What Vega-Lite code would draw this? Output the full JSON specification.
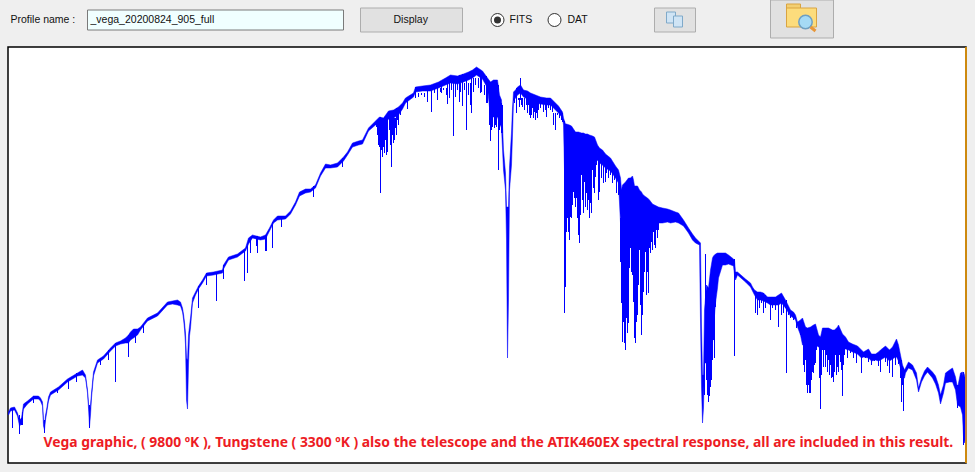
{"$schema":"https://vega.github.io/schema/vega-lite/v6.json","width":958,"height":416,"autosize":"none","padding":{"left":8,"top":47,"right":9,"bottom":9},"background":"#efefef","view":{"fill":"#ffffff","stroke":"#000000","strokeWidth":1.5},
"datasets":{
"spectrum":[{"w":8,"t":51,"b":48},{"w":10,"t":55,"b":52},{"w":14,"t":56,"b":53},{"w":17,"t":50,"b":47},{"w":19,"t":43,"b":37},{"w":21,"t":45,"b":39},{"w":23,"t":59,"b":54},{"w":27,"t":62,"b":59},{"w":33,"t":67,"b":64},{"w":38,"t":67,"b":64},{"w":40,"t":65,"b":62},{"w":42,"t":61,"b":57},{"w":43,"t":43,"b":37},{"w":44,"t":39,"b":33},{"w":45,"t":48,"b":43},{"w":46,"t":53,"b":49},{"w":48,"t":66,"b":62},{"w":50,"t":71,"b":68},{"w":58,"t":76,"b":73},{"w":67,"t":84,"b":81},{"w":77,"t":90,"b":87},{"w":82,"t":93,"b":88},{"w":85,"t":88,"b":85},{"w":87,"t":73,"b":70},{"w":88,"t":60,"b":55},{"w":89,"t":51,"b":36},{"w":90,"t":58,"b":48},{"w":91,"t":70,"b":65},{"w":93,"t":91,"b":87},{"w":97,"t":103,"b":100},{"w":103,"t":107,"b":104},{"w":110,"t":115,"b":112},{"w":115,"t":120,"b":117},{"w":120,"t":122,"b":119},{"w":125,"t":125,"b":120},{"w":128,"t":128,"b":120},{"w":130,"t":131,"b":123},{"w":133,"t":134,"b":125},{"w":137,"t":134,"b":128},{"w":140,"t":136,"b":133},{"w":147,"t":145,"b":142},{"w":157,"t":150,"b":147},{"w":167,"t":161,"b":158},{"w":172,"t":162,"b":159},{"w":177,"t":163,"b":158},{"w":180,"t":161,"b":157},{"w":182,"t":155,"b":151},{"w":183,"t":149,"b":144},{"w":184,"t":141,"b":134},{"w":185,"t":130,"b":118},{"w":186,"t":105,"b":63},{"w":187,"t":103,"b":54},{"w":188,"t":128,"b":98},{"w":189,"t":137,"b":127},{"w":190,"t":145,"b":135},{"w":192,"t":165,"b":160},{"w":195,"t":171,"b":168},{"w":198,"t":177,"b":174},{"w":202,"t":183,"b":180},{"w":206,"t":190,"b":187},{"w":213,"t":191,"b":188},{"w":222,"t":193,"b":190},{"w":223,"t":198,"b":194},{"w":228,"t":206,"b":203},{"w":237,"t":209,"b":206},{"w":245,"t":215,"b":212},{"w":248,"t":225,"b":219},{"w":252,"t":228,"b":225},{"w":260,"t":226,"b":223},{"w":265,"t":228,"b":224},{"w":269,"t":235,"b":232},{"w":273,"t":243,"b":240},{"w":277,"t":247,"b":243},{"w":285,"t":247,"b":244},{"w":290,"t":252,"b":249},{"w":295,"t":261,"b":258},{"w":299,"t":271,"b":267},{"w":305,"t":274,"b":270},{"w":310,"t":274,"b":271},{"w":315,"t":278,"b":275},{"w":320,"t":290,"b":287},{"w":325,"t":299,"b":295},{"w":330,"t":298,"b":295},{"w":337,"t":300,"b":296},{"w":343,"t":306,"b":302},{"w":347,"t":311,"b":308},{"w":352,"t":320,"b":316},{"w":358,"t":322,"b":318},{"w":362,"t":323,"b":319},{"w":368,"t":335,"b":332},{"w":375,"t":342,"b":338},{"w":379,"t":346,"b":338},{"w":383,"t":345,"b":336},{"w":388,"t":352,"b":344},{"w":393,"t":353,"b":345},{"w":398,"t":356,"b":348},{"w":402,"t":360,"b":354},{"w":405,"t":365,"b":360},{"w":413,"t":370,"b":366},{"w":415,"t":376,"b":371},{"w":422,"t":377,"b":372},{"w":430,"t":378,"b":372},{"w":438,"t":381,"b":375},{"w":445,"t":385,"b":378},{"w":450,"t":388,"b":380},{"w":457,"t":387,"b":379},{"w":463,"t":389,"b":381},{"w":468,"t":391,"b":383},{"w":472,"t":393,"b":385},{"w":476,"t":396,"b":388},{"w":482,"t":392,"b":384},{"w":487,"t":385,"b":375},{"w":490,"t":381,"b":346},{"w":493,"t":383,"b":346},{"w":497,"t":383,"b":346},{"w":499,"t":368,"b":340},{"w":501,"t":363,"b":335},{"w":503,"t":313,"b":293},{"w":505,"t":290,"b":273},{"w":506,"t":256,"b":223},{"w":507,"t":256,"b":105},{"w":508,"t":256,"b":163},{"w":509,"t":296,"b":273},{"w":511,"t":331,"b":298},{"w":512,"t":355,"b":328},{"w":513,"t":371,"b":362},{"w":515,"t":373,"b":365},{"w":517,"t":376,"b":368},{"w":520,"t":378,"b":370},{"w":523,"t":373,"b":366},{"w":527,"t":372,"b":364},{"w":530,"t":370,"b":362},{"w":535,"t":368,"b":360},{"w":540,"t":366,"b":359},{"w":546,"t":365,"b":358},{"w":550,"t":365,"b":358},{"w":555,"t":360,"b":353},{"w":558,"t":357,"b":350},{"w":562,"t":351,"b":345},{"w":563,"t":345,"b":338},{"w":564,"t":342,"b":293},{"w":565,"t":339,"b":293},{"w":566,"t":339,"b":293},{"w":569,"t":338,"b":293},{"w":571,"t":337,"b":293},{"w":575,"t":331,"b":293},{"w":578,"t":331,"b":293},{"w":581,"t":330,"b":293},{"w":583,"t":330,"b":293},{"w":585,"t":329,"b":293},{"w":587,"t":329,"b":296},{"w":589,"t":328,"b":296},{"w":592,"t":327,"b":298},{"w":594,"t":326,"b":298},{"w":597,"t":318,"b":303},{"w":599,"t":315,"b":300},{"w":602,"t":313,"b":298},{"w":605,"t":309,"b":295},{"w":610,"t":305,"b":292},{"w":615,"t":297,"b":285},{"w":618,"t":293,"b":280},{"w":620,"t":285,"b":240},{"w":621,"t":273,"b":240},{"w":622,"t":278,"b":240},{"w":625,"t":281,"b":240},{"w":628,"t":285,"b":240},{"w":630,"t":285,"b":240},{"w":632,"t":287,"b":240},{"w":633,"t":283,"b":240},{"w":634,"t":277,"b":240},{"w":637,"t":277,"b":240},{"w":639,"t":273,"b":240},{"w":641,"t":271,"b":240},{"w":642,"t":269,"b":240},{"w":643,"t":268,"b":240},{"w":644,"t":267,"b":240},{"w":647,"t":265,"b":240},{"w":649,"t":263,"b":240},{"w":652,"t":259,"b":240},{"w":654,"t":258,"b":240},{"w":658,"t":256,"b":240},{"w":662,"t":255,"b":240},{"w":667,"t":254,"b":241},{"w":670,"t":253,"b":240},{"w":675,"t":251,"b":241},{"w":678,"t":250,"b":240},{"w":683,"t":243,"b":237},{"w":688,"t":235,"b":230},{"w":692,"t":229,"b":223},{"w":695,"t":225,"b":220},{"w":699,"t":221,"b":218},{"w":700,"t":220,"b":141},{"w":701,"t":137,"b":76},{"w":702,"t":88,"b":40},{"w":703,"t":88,"b":55},{"w":704,"t":153,"b":100},{"w":706,"t":178,"b":100},{"w":708,"t":175,"b":100},{"w":710,"t":193,"b":100},{"w":712,"t":205,"b":120},{"w":713,"t":207,"b":135},{"w":715,"t":209,"b":160},{"w":717,"t":210,"b":175},{"w":718,"t":210,"b":185},{"w":722,"t":210,"b":198},{"w":725,"t":210,"b":198},{"w":728,"t":208,"b":199},{"w":733,"t":204,"b":197},{"w":734,"t":203,"b":188},{"w":735,"t":191,"b":183},{"w":737,"t":191,"b":188},{"w":745,"t":184,"b":181},{"w":750,"t":180,"b":176},{"w":752,"t":176,"b":172},{"w":754,"t":173,"b":168},{"w":757,"t":171,"b":163},{"w":760,"t":171,"b":163},{"w":763,"t":170,"b":162},{"w":767,"t":166,"b":160},{"w":770,"t":166,"b":158},{"w":773,"t":166,"b":158},{"w":775,"t":166,"b":158},{"w":778,"t":168,"b":158},{"w":781,"t":170,"b":160},{"w":785,"t":163,"b":155},{"w":790,"t":153,"b":147},{"w":793,"t":151,"b":145},{"w":795,"t":148,"b":143},{"w":797,"t":141,"b":136},{"w":800,"t":143,"b":128},{"w":802,"t":145,"b":118},{"w":805,"t":136,"b":118},{"w":807,"t":135,"b":118},{"w":810,"t":136,"b":118},{"w":813,"t":138,"b":118},{"w":815,"t":139,"b":118},{"w":818,"t":128,"b":116},{"w":820,"t":126,"b":116},{"w":822,"t":135,"b":118},{"w":825,"t":135,"b":118},{"w":828,"t":135,"b":118},{"w":832,"t":133,"b":118},{"w":834,"t":133,"b":118},{"w":837,"t":136,"b":118},{"w":838,"t":138,"b":118},{"w":842,"t":129,"b":114},{"w":845,"t":126,"b":114},{"w":848,"t":121,"b":113},{"w":852,"t":119,"b":111},{"w":857,"t":117,"b":109},{"w":861,"t":113,"b":105},{"w":863,"t":111,"b":106},{"w":868,"t":114,"b":105},{"w":871,"t":109,"b":102},{"w":875,"t":109,"b":103},{"w":878,"t":111,"b":102},{"w":880,"t":113,"b":103},{"w":885,"t":117,"b":106},{"w":887,"t":115,"b":104},{"w":889,"t":113,"b":102},{"w":892,"t":116,"b":104},{"w":895,"t":122,"b":106},{"w":896,"t":124,"b":106},{"w":898,"t":118,"b":102},{"w":900,"t":108,"b":95},{"w":902,"t":98,"b":84},{"w":904,"t":93,"b":85},{"w":905,"t":95,"b":90},{"w":908,"t":101,"b":95},{"w":912,"t":98,"b":93},{"w":916,"t":90,"b":83},{"w":918,"t":75,"b":71},{"w":921,"t":85,"b":81},{"w":924,"t":92,"b":87},{"w":927,"t":96,"b":91},{"w":932,"t":91,"b":85},{"w":935,"t":87,"b":79},{"w":937,"t":81,"b":73},{"w":938,"t":78,"b":70},{"w":940,"t":68,"b":59},{"w":943,"t":78,"b":70},{"w":945,"t":90,"b":80},{"w":949,"t":93,"b":81},{"w":952,"t":95,"b":81},{"w":955,"t":86,"b":73},{"w":957,"t":75,"b":58},{"w":960,"t":90,"b":56},{"w":962,"t":91,"b":48},{"w":963,"t":83,"b":26},{"w":964,"t":88,"b":20},{"w":965,"t":91,"b":23},{"w":966,"t":88,"b":25}],
"lines":[{"w":12,"t":55,"b":35},{"w":19,"t":48,"b":29},{"w":21,"t":45,"b":38},{"w":22,"t":51,"b":38},{"w":33,"t":67,"b":60},{"w":44,"t":43,"b":30},{"w":57,"t":75,"b":70},{"w":68,"t":84,"b":74},{"w":76,"t":90,"b":81},{"w":89,"t":58,"b":35},{"w":100,"t":105,"b":98},{"w":108,"t":113,"b":103},{"w":115,"t":120,"b":81},{"w":128,"t":128,"b":106},{"w":135,"t":133,"b":120},{"w":143,"t":138,"b":130},{"w":198,"t":177,"b":155},{"w":206,"t":190,"b":178},{"w":216,"t":191,"b":162},{"w":223,"t":198,"b":184},{"w":244,"t":213,"b":182},{"w":247,"t":218,"b":190},{"w":250,"t":225,"b":210},{"w":256,"t":227,"b":217},{"w":257,"t":227,"b":210},{"w":265,"t":228,"b":212},{"w":266,"t":228,"b":212},{"w":272,"t":241,"b":215},{"w":281,"t":247,"b":236},{"w":313,"t":277,"b":266},{"w":342,"t":305,"b":296},
{"w":376,"t":340,"b":336},{"w":377,"t":340,"b":328},{"w":378,"t":340,"b":318},{"w":379,"t":340,"b":316},{"w":380,"t":346,"b":270},{"w":381,"t":340,"b":313},{"w":382,"t":345,"b":306},{"w":383,"t":340,"b":316},{"w":384,"t":340,"b":310},{"w":385,"t":340,"b":323},{"w":386,"t":345,"b":308},{"w":387,"t":345,"b":311},{"w":389,"t":345,"b":333},{"w":390,"t":345,"b":318},{"w":391,"t":352,"b":296},{"w":392,"t":345,"b":328},{"w":393,"t":353,"b":320},{"w":394,"t":345,"b":323},{"w":395,"t":345,"b":335},{"w":396,"t":355,"b":328},{"w":397,"t":355,"b":343},{"w":398,"t":355,"b":338},{"w":400,"t":355,"b":348},{"w":401,"t":358,"b":355},{"w":407,"t":366,"b":354},{"w":415,"t":376,"b":365},{"w":418,"t":370,"b":366},{"w":421,"t":370,"b":368},{"w":424,"t":370,"b":366},{"w":427,"t":377,"b":361},{"w":431,"t":378,"b":351},{"w":434,"t":375,"b":370},{"w":437,"t":375,"b":363},{"w":440,"t":375,"b":371},{"w":441,"t":381,"b":370},{"w":443,"t":375,"b":373},{"w":446,"t":375,"b":368},{"w":447,"t":385,"b":359},{"w":449,"t":380,"b":365},{"w":451,"t":380,"b":373},{"w":453,"t":387,"b":327},{"w":455,"t":380,"b":366},{"w":457,"t":380,"b":373},{"w":459,"t":388,"b":361},{"w":460,"t":380,"b":371},{"w":462,"t":389,"b":357},{"w":464,"t":380,"b":373},{"w":466,"t":389,"b":333},{"w":468,"t":380,"b":368},{"w":470,"t":380,"b":358},{"w":471,"t":392,"b":350},{"w":473,"t":385,"b":371},{"w":475,"t":385,"b":378},{"w":478,"t":385,"b":375},{"w":480,"t":393,"b":370},{"w":481,"t":385,"b":371},{"w":484,"t":378,"b":368},{"w":486,"t":387,"b":360},{"w":487,"t":378,"b":360},{"w":489,"t":375,"b":338},{"w":490,"t":381,"b":322},{"w":491,"t":375,"b":333},{"w":492,"t":375,"b":336},{"w":494,"t":375,"b":335},{"w":495,"t":375,"b":338},{"w":496,"t":375,"b":336},{"w":497,"t":375,"b":348},{"w":498,"t":378,"b":293},{"w":499,"t":360,"b":333},{"w":500,"t":360,"b":338},{"w":501,"t":360,"b":330},{"w":502,"t":358,"b":330},
{"w":514,"t":365,"b":360},{"w":516,"t":375,"b":350},{"w":518,"t":365,"b":363},{"w":519,"t":365,"b":356},{"w":520,"t":385,"b":363},{"w":521,"t":365,"b":358},{"w":522,"t":365,"b":356},{"w":524,"t":365,"b":353},{"w":526,"t":365,"b":358},{"w":527,"t":365,"b":350},{"w":528,"t":365,"b":358},{"w":529,"t":365,"b":348},{"w":530,"t":365,"b":345},{"w":531,"t":365,"b":348},{"w":532,"t":365,"b":355},{"w":533,"t":365,"b":345},{"w":534,"t":365,"b":351},{"w":535,"t":365,"b":343},{"w":536,"t":365,"b":350},{"w":537,"t":365,"b":345},{"w":538,"t":365,"b":353},{"w":540,"t":365,"b":355},{"w":543,"t":365,"b":351},{"w":545,"t":365,"b":353},{"w":546,"t":365,"b":346},{"w":548,"t":358,"b":355},{"w":550,"t":358,"b":353},{"w":552,"t":358,"b":351},{"w":553,"t":350,"b":338},{"w":555,"t":350,"b":333},{"w":557,"t":350,"b":348},{"w":559,"t":350,"b":345},{"w":561,"t":350,"b":343},{"w":562,"t":350,"b":341},
{"w":564,"t":342,"b":150},{"w":565,"t":300,"b":176},{"w":566,"t":300,"b":231},{"w":567,"t":300,"b":245},{"w":568,"t":300,"b":231},{"w":569,"t":300,"b":223},{"w":570,"t":300,"b":246},{"w":571,"t":300,"b":245},{"w":572,"t":300,"b":258},{"w":573,"t":300,"b":271},{"w":574,"t":300,"b":265},{"w":575,"t":300,"b":256},{"w":576,"t":300,"b":265},{"w":577,"t":300,"b":245},{"w":578,"t":300,"b":228},{"w":579,"t":300,"b":220},{"w":580,"t":300,"b":248},{"w":581,"t":300,"b":288},{"w":582,"t":300,"b":263},{"w":583,"t":300,"b":250},{"w":584,"t":300,"b":281},{"w":585,"t":300,"b":256},{"w":586,"t":300,"b":270},{"w":587,"t":300,"b":253},{"w":588,"t":300,"b":263},{"w":589,"t":300,"b":245},{"w":590,"t":300,"b":260},{"w":591,"t":300,"b":250},{"w":592,"t":300,"b":293},{"w":593,"t":300,"b":275},{"w":594,"t":300,"b":270},{"w":595,"t":300,"b":286},{"w":596,"t":303,"b":298},{"w":598,"t":305,"b":263},{"w":599,"t":305,"b":271},{"w":601,"t":305,"b":285},{"w":603,"t":305,"b":280},{"w":605,"t":300,"b":281},{"w":606,"t":300,"b":290},{"w":608,"t":300,"b":285},{"w":610,"t":298,"b":288},{"w":612,"t":295,"b":280},{"w":614,"t":290,"b":283},{"w":616,"t":288,"b":270},{"w":618,"t":285,"b":268},
{"w":620,"t":245,"b":201},{"w":621,"t":245,"b":160},{"w":622,"t":245,"b":121},{"w":623,"t":245,"b":141},{"w":624,"t":245,"b":120},{"w":625,"t":245,"b":113},{"w":626,"t":245,"b":145},{"w":627,"t":245,"b":130},{"w":628,"t":245,"b":140},{"w":629,"t":245,"b":195},{"w":630,"t":245,"b":215},{"w":631,"t":245,"b":191},{"w":632,"t":245,"b":188},{"w":633,"t":245,"b":161},{"w":634,"t":245,"b":125},{"w":635,"t":245,"b":120},{"w":636,"t":245,"b":141},{"w":637,"t":245,"b":148},{"w":638,"t":245,"b":178},{"w":639,"t":245,"b":213},{"w":640,"t":245,"b":158},{"w":641,"t":245,"b":128},{"w":642,"t":245,"b":148},{"w":643,"t":245,"b":171},{"w":644,"t":245,"b":191},{"w":645,"t":245,"b":211},{"w":646,"t":245,"b":168},{"w":647,"t":245,"b":191},{"w":648,"t":245,"b":170},{"w":649,"t":245,"b":215},{"w":650,"t":245,"b":210},{"w":651,"t":245,"b":221},{"w":652,"t":245,"b":213},{"w":653,"t":245,"b":231},{"w":654,"t":245,"b":218},{"w":655,"t":245,"b":215},{"w":656,"t":245,"b":233},{"w":657,"t":245,"b":225},{"w":658,"t":245,"b":233},
{"w":704,"t":120,"b":68},{"w":705,"t":209,"b":133},{"w":706,"t":120,"b":83},{"w":707,"t":120,"b":68},{"w":708,"t":120,"b":61},{"w":709,"t":120,"b":67},{"w":710,"t":120,"b":76},{"w":711,"t":120,"b":83},{"w":712,"t":170,"b":103},{"w":713,"t":170,"b":123},{"w":714,"t":170,"b":105},{"w":715,"t":170,"b":156},{"w":734,"t":204,"b":107},
{"w":755,"t":170,"b":150},{"w":757,"t":170,"b":148},{"w":759,"t":170,"b":155},{"w":761,"t":170,"b":160},{"w":763,"t":170,"b":150},{"w":765,"t":168,"b":155},{"w":770,"t":165,"b":143},{"w":772,"t":165,"b":155},{"w":775,"t":165,"b":153},{"w":778,"t":165,"b":136},{"w":781,"t":165,"b":148},{"w":783,"t":162,"b":150},{"w":785,"t":160,"b":155},{"w":786,"t":163,"b":90},{"w":788,"t":155,"b":148},{"w":790,"t":150,"b":145},{"w":793,"t":148,"b":143},{"w":796,"t":143,"b":135},{"w":798,"t":140,"b":135},{"w":800,"t":140,"b":128},
{"w":803,"t":125,"b":98},{"w":804,"t":125,"b":91},{"w":805,"t":125,"b":103},{"w":806,"t":125,"b":78},{"w":807,"t":125,"b":70},{"w":808,"t":125,"b":78},{"w":809,"t":125,"b":70},{"w":810,"t":125,"b":70},{"w":811,"t":125,"b":83},{"w":812,"t":125,"b":91},{"w":813,"t":125,"b":90},{"w":814,"t":125,"b":98},{"w":815,"t":125,"b":100},{"w":816,"t":125,"b":113},{"w":819,"t":125,"b":85},{"w":820,"t":125,"b":54},{"w":821,"t":125,"b":88},{"w":822,"t":125,"b":113},{"w":823,"t":125,"b":96},{"w":824,"t":125,"b":113},{"w":825,"t":125,"b":96},{"w":826,"t":125,"b":108},{"w":827,"t":125,"b":91},{"w":828,"t":125,"b":103},{"w":829,"t":125,"b":88},{"w":830,"t":125,"b":98},{"w":831,"t":125,"b":85},{"w":832,"t":125,"b":86},{"w":833,"t":125,"b":81},{"w":834,"t":125,"b":91},{"w":835,"t":125,"b":108},{"w":836,"t":125,"b":88},{"w":837,"t":125,"b":96},{"w":838,"t":125,"b":91},{"w":839,"t":125,"b":108},{"w":840,"t":125,"b":101},{"w":841,"t":125,"b":93},{"w":842,"t":125,"b":67},{"w":843,"t":125,"b":98},{"w":844,"t":125,"b":108},
{"w":847,"t":118,"b":105},{"w":850,"t":116,"b":110},{"w":853,"t":115,"b":105},{"w":856,"t":113,"b":100},{"w":861,"t":112,"b":90},{"w":865,"t":110,"b":105},{"w":868,"t":110,"b":101},{"w":871,"t":106,"b":98},{"w":874,"t":106,"b":102},{"w":878,"t":107,"b":97},{"w":880,"t":108,"b":91},{"w":885,"t":112,"b":101},{"w":887,"t":110,"b":97},{"w":889,"t":108,"b":90},{"w":892,"t":110,"b":86},{"w":895,"t":115,"b":98},{"w":898,"t":112,"b":99},{"w":900,"t":102,"b":85},{"w":901,"t":103,"b":61},{"w":902,"t":95,"b":78},{"w":903,"t":95,"b":52},{"w":957,"t":78,"b":55},{"w":963,"t":91,"b":18}],
"controls":[{"part":"text box","w":87,"w2":343,"f":453,"f2":433},{"part":"button","w":360,"w2":462,"f":455,"f2":431},{"part":"button","w":654,"w2":695,"f":455,"f2":431},{"part":"button","w":770,"w2":833,"f":463,"f2":425},{"part":"page","w":666,"w2":675,"f":451,"f2":440},{"part":"page","w":673,"w2":682,"f":447,"f2":436},{"part":"folder tab","w":786,"w2":800,"f":459,"f2":453},{"part":"folder","w":786,"w2":816,"f":455,"f2":436}],
"labels":[{"label":"Profile name :","w":10,"f":443},{"label":"_vega_20200824_905_full","w":90,"f":443},{"label":"Display","w":393,"f":443},{"label":"FITS","w":509,"f":443},{"label":"DAT","w":567,"f":443}],
"radios":[{"w":497,"f":443},{"w":554,"f":443}],
"note":[{"label":"Vega graphic, ( 9800 ºK ), Tungstene ( 3300 ºK ) also the telescope and the  ATIK460EX spectral response, all are included in this result.","w":43,"f":20}]
},
"layer":[
{"data":{"name":"controls"},"mark":{"type":"rect","strokeWidth":1},"encoding":{"x":{"field":"w","type":"quantitative","scale":{"domain":[7.5,965.5],"nice":false,"zero":false},"axis":null},"x2":{"field":"w2"},"y":{"field":"f","type":"quantitative","scale":{"domain":[0,416],"nice":false,"zero":false},"axis":null},"y2":{"field":"f2"},"fill":{"field":"part","type":"nominal","legend":null,"scale":{"domain":["text box","button","page","folder tab","folder"],"range":["#f0ffff","#e1e1e1","#cfe4f5","#f3cf72","#fcdc7c"]}},"stroke":{"field":"part","type":"nominal","legend":null,"scale":{"domain":["text box","button","page","folder tab","folder"],"range":["#7a7a7a","#adadad","#7fa9c9","#d9a441","#d9a441"]}}}},
{"data":{"values":[{"w":805,"f":441}]},"mark":{"type":"point","shape":"circle","filled":true,"fill":"#a5daf5","stroke":"#6f9fc0","strokeWidth":1.5,"size":180,"opacity":1},"encoding":{"x":{"field":"w","type":"quantitative"},"y":{"field":"f","type":"quantitative"}}},
{"data":{"values":[{"w":810,"w2":815,"f":436,"f2":432}]},"mark":{"type":"rule","stroke":"#e8973a","strokeWidth":3},"encoding":{"x":{"field":"w","type":"quantitative"},"x2":{"field":"w2"},"y":{"field":"f","type":"quantitative"},"y2":{"field":"f2"}}},
{"data":{"name":"radios"},"mark":{"type":"point","shape":"circle","filled":true,"fill":"#ffffff","stroke":"#333333","strokeWidth":1,"size":169,"opacity":1},"encoding":{"x":{"field":"w","type":"quantitative"},"y":{"field":"f","type":"quantitative"}}},
{"data":{"values":[{"w":497,"f":443}]},"mark":{"type":"point","shape":"circle","filled":true,"fill":"#333333","size":49,"opacity":1},"encoding":{"x":{"field":"w","type":"quantitative"},"y":{"field":"f","type":"quantitative"}}},
{"data":{"name":"labels"},"mark":{"type":"text","align":"left","baseline":"middle","font":"Liberation Sans","fontSize":10.5,"fill":"#111111"},"encoding":{"x":{"field":"w","type":"quantitative"},"y":{"field":"f","type":"quantitative"},"text":{"field":"label","type":"nominal"}}},
{"data":{"name":"spectrum"},"mark":{"type":"area","fill":"#0000ff","stroke":"#0000ff","strokeWidth":0.5},"encoding":{"x":{"field":"w","type":"quantitative"},"y":{"field":"t","type":"quantitative"},"y2":{"field":"b"}}},
{"data":{"name":"lines"},"mark":{"type":"rule","stroke":"#0000ff","strokeWidth":1},"encoding":{"x":{"field":"w","type":"quantitative"},"y":{"field":"t","type":"quantitative"},"y2":{"field":"b"}}},
{"data":{"values":[{"w":965.5,"f":416,"f2":0}]},"mark":{"type":"rule","stroke":"#ffa500","strokeWidth":1.5},"encoding":{"x":{"field":"w","type":"quantitative"},"y":{"field":"f","type":"quantitative"},"y2":{"field":"f2"}}},
{"data":{"name":"note"},"mark":{"type":"text","align":"left","baseline":"middle","font":"Noto Sans","fontWeight":"bold","fontSize":13.9,"fill":"#ed1c24"},"encoding":{"x":{"field":"w","type":"quantitative"},"y":{"field":"f","type":"quantitative"},"text":{"field":"label","type":"nominal"}}}
]}
